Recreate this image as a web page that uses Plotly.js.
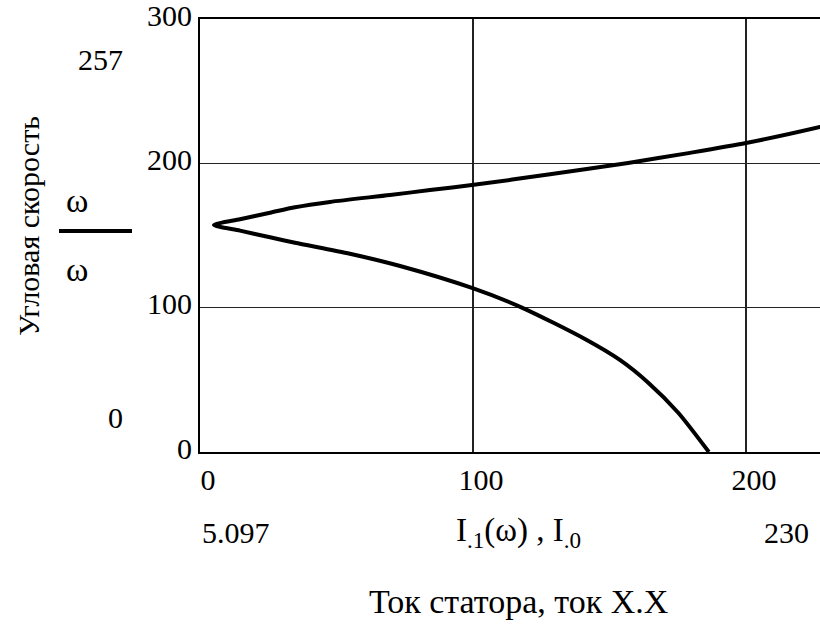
<!DOCTYPE html>
<html>
<head>
<meta charset="utf-8">
<script src="https://cdn.plot.ly/plotly-3.0.1.min.js"></script>
<style>
html,body{margin:0;padding:0;background:#fff;overflow:hidden;}
#chart{width:820px;height:625px;}
</style>
</head>
<body>
<div id="chart"></div>
<script>
// Stator current I1(ω) (x) versus angular speed ω (y)
const current = [186.4, 175.1, 164.1, 153.8, 141, 117.9, 99.6, 73.3, 54.9, 34.8, 25.64, 14.65, 5.1,
                 14.65, 25.64, 34.8, 47.6, 69.6, 84.25, 99.6, 128.2, 156.8, 179.5, 200, 227.1, 238.1];
const omega   = [0, 27.4, 48.2, 63.8, 78.3, 100.1, 113.7, 128.9, 137.4, 145.0, 148.8, 153.4, 157.3,
                 161.3, 165.8, 169.6, 173.3, 178.1, 181.5, 185.0, 192.4, 200.3, 207.3, 214.1, 225.2, 230.4];

const xTicks = [0, 100, 200];
const yTicks = [0, 100, 200, 300];

const xTitle = "Ток статора, ток Х.Х";
const yTitle = "Угловая скорость";
const xExpr = "I<sub>.1</sub>(ω) , I<sub>.0</sub>";
const yExpr = "ω";
const xLimLow = "5.097", xLimHigh = "230";
const yLimLow = "0", yLimHigh = "257";

// layout geometry (pixels)
const W = 820, H = 625;
const L = 200, R = 0, T = 19, B = 173;
const pw = W - L - R, ph = H - T - B;
function px(x){ return (x - L) / pw; }
function py(y){ return (H - B - y) / ph; }

const FONT = "'Liberation Serif', 'Times New Roman', Times, serif";

const trace = {
  x: current, y: omega, type: "scatter", mode: "lines",
  line: {color: "#000", width: 4, shape: "spline", smoothing: 0.7},
  hoverinfo: "skip", cliponaxis: true
};

function ann(text, x, y, size, extra){
  return Object.assign({text: text, x: px(x), y: py(y), xref: "paper", yref: "paper",
    showarrow: false, xanchor: "center", yanchor: "middle",
    font: {family: FONT, size: size, color: "#000"}}, extra || {});
}

const layout = {
  width: W, height: H,
  margin: {l: L, r: R, t: T, b: B, pad: 0},
  paper_bgcolor: "#fff", plot_bgcolor: "#fff",
  showlegend: false,
  font: {family: FONT, size: 30, color: "#000"},
  xaxis: {
    range: [0, pw / 2.73], tickvals: xTicks, ticktext: xTicks.map(String),
    showgrid: true, gridcolor: "#222", gridwidth: 1.5,
    showline: true, linecolor: "#000", linewidth: 2, mirror: true,
    zeroline: false, ticks: "", ticklabelstandoff: 0, ticklabelshift: 8,
    tickfont: {family: FONT, size: 30, color: "#000"}, fixedrange: true
  },
  yaxis: {
    range: [0, 300.05], tickvals: yTicks, ticktext: yTicks.map(String),
    showgrid: true, gridcolor: "#222", gridwidth: 1.5,
    showline: true, linecolor: "#000", linewidth: 2, mirror: false,
    zeroline: false, ticks: "", ticklabelstandoff: 0, ticklabelshift: -4,
    ticklabeloverflow: "allow",
    tickfont: {family: FONT, size: 30, color: "#000"}, fixedrange: true
  },
  shapes: [
    {type: "line", xref: "paper", yref: "paper", x0: px(59), x1: px(132), y0: py(231), y1: py(231),
     line: {color: "#000", width: 4}}
  ],
  annotations: [
    ann(yLimHigh, 100, 59, 30),
    ann(yLimLow, 116, 417, 30),
    ann(xLimLow, 236, 532, 30),
    ann(xLimHigh, 786, 532, 30),
    ann(xExpr, 518, 532, 33),
    ann(yExpr, 77, 201, 34),
    ann(yExpr, 77, 269, 34),
    ann(xTitle, 518, 601, 34),
    ann(yTitle, 28, 226, 30, {textangle: -90})
  ]
};

Plotly.newPlot("chart", [trace], layout, {displayModeBar: false, staticPlot: true});
</script>
</body>
</html>
